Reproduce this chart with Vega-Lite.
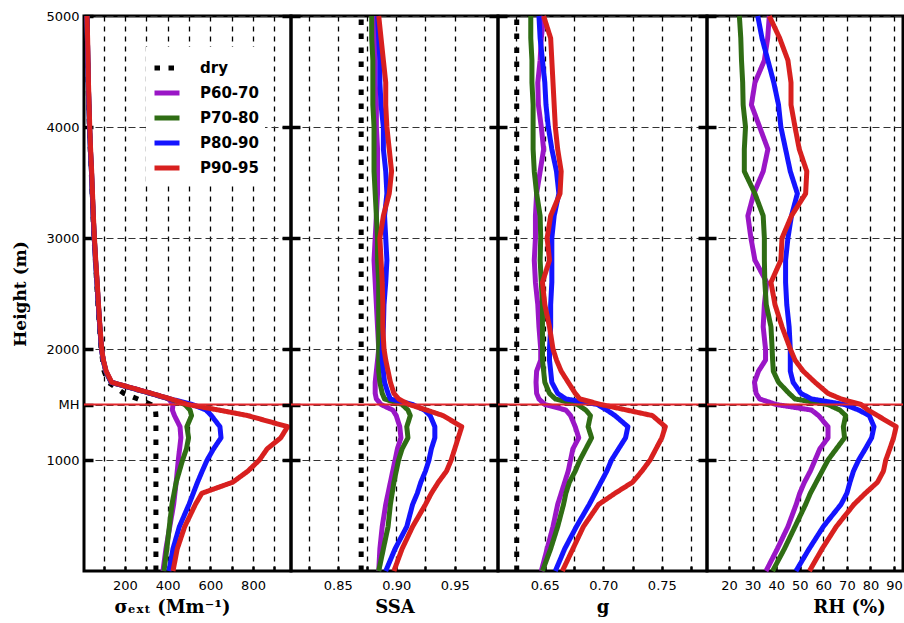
{
"$schema": "https://vega.github.io/schema/vega-lite/v6.json",
"background": "white",
"padding": {"left": 10, "top": 8, "right": 0, "bottom": 0},
"autosize": {"type": "pad"},
"spacing": 0,
"bounds": "flush",
"resolve": {"scale": {"color": "independent", "strokeDash": "independent"}},
"config": {
 "view": {"stroke": "black", "strokeWidth": 3},
 "axis": {"labelFont": "DejaVu Sans", "labelFontSize": 13, "labelColor": "black", "titleFont": "DejaVu Serif", "titleFontWeight": "bold", "titleColor": "black", "titleFontSize": 18, "domain": false, "tickColor": "black", "gridColor": "black", "gridOpacity": 1, "labelFlush": false, "labelOverlap": false},
 "axisX": {"gridDash": [5, 5], "gridWidth": 1.3, "tickSize": -5, "tickWidth": 2.5, "labelPadding": 13, "titlePadding": 6},
 "axisY": {"gridDash": [7, 4], "gridWidth": 1.2, "gridColor": "#333333", "tickSize": -9, "tickWidth": 3.5, "labelPadding": 14}
},
"data": {"values": [
{"s":"dry","h":0,"sig":345,"ssa":0.87,"g":0.626,"rh":null},
{"s":"dry","h":200,"sig":345,"ssa":0.87,"g":0.626,"rh":null},
{"s":"dry","h":400,"sig":345,"ssa":0.87,"g":0.626,"rh":null},
{"s":"dry","h":600,"sig":345,"ssa":0.87,"g":0.626,"rh":null},
{"s":"dry","h":700,"sig":345,"ssa":0.87,"g":0.626,"rh":null},
{"s":"dry","h":800,"sig":345,"ssa":0.87,"g":0.626,"rh":null},
{"s":"dry","h":900,"sig":345,"ssa":0.87,"g":0.626,"rh":null},
{"s":"dry","h":1000,"sig":345,"ssa":0.87,"g":0.626,"rh":null},
{"s":"dry","h":1100,"sig":345,"ssa":0.87,"g":0.626,"rh":null},
{"s":"dry","h":1200,"sig":345,"ssa":0.87,"g":0.626,"rh":null},
{"s":"dry","h":1300,"sig":345,"ssa":0.87,"g":0.626,"rh":null},
{"s":"dry","h":1400,"sig":345,"ssa":0.87,"g":0.626,"rh":null},
{"s":"dry","h":1450,"sig":343,"ssa":0.87,"g":0.626,"rh":null},
{"s":"dry","h":1500,"sig":322,"ssa":0.87,"g":0.626,"rh":null},
{"s":"dry","h":1550,"sig":260,"ssa":0.87,"g":0.626,"rh":null},
{"s":"dry","h":1600,"sig":195,"ssa":0.87,"g":0.626,"rh":null},
{"s":"dry","h":1700,"sig":122,"ssa":0.87,"g":0.626,"rh":null},
{"s":"dry","h":1800,"sig":102,"ssa":0.87,"g":0.626,"rh":null},
{"s":"dry","h":1900,"sig":95,"ssa":0.87,"g":0.626,"rh":null},
{"s":"dry","h":2000,"sig":88,"ssa":0.87,"g":0.626,"rh":null},
{"s":"dry","h":2200,"sig":80,"ssa":0.87,"g":0.626,"rh":null},
{"s":"dry","h":2400,"sig":73,"ssa":0.87,"g":0.626,"rh":null},
{"s":"dry","h":2600,"sig":67,"ssa":0.87,"g":0.626,"rh":null},
{"s":"dry","h":2800,"sig":61,"ssa":0.87,"g":0.626,"rh":null},
{"s":"dry","h":3000,"sig":55,"ssa":0.87,"g":0.626,"rh":null},
{"s":"dry","h":3200,"sig":50,"ssa":0.87,"g":0.626,"rh":null},
{"s":"dry","h":3400,"sig":46,"ssa":0.87,"g":0.626,"rh":null},
{"s":"dry","h":3600,"sig":42,"ssa":0.87,"g":0.626,"rh":null},
{"s":"dry","h":3800,"sig":37,"ssa":0.87,"g":0.626,"rh":null},
{"s":"dry","h":4000,"sig":33,"ssa":0.87,"g":0.626,"rh":null},
{"s":"dry","h":4200,"sig":30,"ssa":0.87,"g":0.626,"rh":null},
{"s":"dry","h":4400,"sig":27,"ssa":0.87,"g":0.626,"rh":null},
{"s":"dry","h":4600,"sig":25,"ssa":0.87,"g":0.626,"rh":null},
{"s":"dry","h":4800,"sig":23,"ssa":0.87,"g":0.626,"rh":null},
{"s":"dry","h":5000,"sig":21,"ssa":0.87,"g":0.626,"rh":null},
{"s":"P60-70","h":0,"sig":378,"ssa":0.885,"g":0.647,"rh":35.7},
{"s":"P60-70","h":200,"sig":392,"ssa":0.886,"g":0.652,"rh":40.5},
{"s":"P60-70","h":400,"sig":410,"ssa":0.888,"g":0.657,"rh":45},
{"s":"P60-70","h":600,"sig":428,"ssa":0.891,"g":0.661,"rh":48.5},
{"s":"P60-70","h":700,"sig":434,"ssa":0.893,"g":0.664,"rh":50},
{"s":"P60-70","h":800,"sig":440,"ssa":0.895,"g":0.667,"rh":52},
{"s":"P60-70","h":900,"sig":445,"ssa":0.897,"g":0.67,"rh":54.5},
{"s":"P60-70","h":1000,"sig":450,"ssa":0.899,"g":0.672,"rh":56.5},
{"s":"P60-70","h":1100,"sig":456,"ssa":0.901,"g":0.674,"rh":58.5},
{"s":"P60-70","h":1200,"sig":462,"ssa":0.904,"g":0.679,"rh":62},
{"s":"P60-70","h":1300,"sig":458,"ssa":0.903,"g":0.676,"rh":62},
{"s":"P60-70","h":1400,"sig":432,"ssa":0.9,"g":0.672,"rh":58},
{"s":"P60-70","h":1450,"sig":422,"ssa":0.897,"g":0.668,"rh":55},
{"s":"P60-70","h":1500,"sig":425,"ssa":0.887,"g":0.65,"rh":40},
{"s":"P60-70","h":1550,"sig":405,"ssa":0.883,"g":0.645,"rh":33},
{"s":"P60-70","h":1600,"sig":320,"ssa":0.882,"g":0.643,"rh":31.5},
{"s":"P60-70","h":1700,"sig":135,"ssa":0.882,"g":0.6425,"rh":30.8},
{"s":"P60-70","h":1800,"sig":110,"ssa":0.883,"g":0.643,"rh":32.5},
{"s":"P60-70","h":1900,"sig":98,"ssa":0.884,"g":0.6465,"rh":35.5},
{"s":"P60-70","h":2000,"sig":90,"ssa":0.885,"g":0.6465,"rh":35.5},
{"s":"P60-70","h":2200,"sig":82,"ssa":0.884,"g":0.645,"rh":34.5},
{"s":"P60-70","h":2400,"sig":75,"ssa":0.883,"g":0.644,"rh":35},
{"s":"P60-70","h":2600,"sig":69,"ssa":0.882,"g":0.642,"rh":36},
{"s":"P60-70","h":2800,"sig":62,"ssa":0.881,"g":0.641,"rh":31},
{"s":"P60-70","h":3000,"sig":56,"ssa":0.882,"g":0.642,"rh":29.3},
{"s":"P60-70","h":3200,"sig":51,"ssa":0.883,"g":0.642,"rh":28},
{"s":"P60-70","h":3400,"sig":47,"ssa":0.884,"g":0.643,"rh":30.5},
{"s":"P60-70","h":3600,"sig":43,"ssa":0.884,"g":0.646,"rh":34.5},
{"s":"P60-70","h":3800,"sig":38,"ssa":0.884,"g":0.649,"rh":36.5},
{"s":"P60-70","h":4000,"sig":34,"ssa":0.883,"g":0.647,"rh":33},
{"s":"P60-70","h":4200,"sig":31,"ssa":0.883,"g":0.6445,"rh":29.5},
{"s":"P60-70","h":4400,"sig":28,"ssa":0.882,"g":0.644,"rh":31},
{"s":"P60-70","h":4600,"sig":26,"ssa":0.882,"g":0.646,"rh":35},
{"s":"P60-70","h":4800,"sig":24,"ssa":0.882,"g":0.647,"rh":36.4},
{"s":"P60-70","h":5000,"sig":22,"ssa":0.882,"g":0.649,"rh":37.1},
{"s":"P70-80","h":0,"sig":383,"ssa":0.885,"g":0.648,"rh":38.5},
{"s":"P70-80","h":200,"sig":396,"ssa":0.889,"g":0.655,"rh":43.5},
{"s":"P70-80","h":400,"sig":408,"ssa":0.893,"g":0.661,"rh":48},
{"s":"P70-80","h":600,"sig":420,"ssa":0.895,"g":0.666,"rh":52.5},
{"s":"P70-80","h":700,"sig":430,"ssa":0.8965,"g":0.668,"rh":54.5},
{"s":"P70-80","h":800,"sig":440,"ssa":0.898,"g":0.671,"rh":57},
{"s":"P70-80","h":900,"sig":455,"ssa":0.9,"g":0.676,"rh":59.5},
{"s":"P70-80","h":1000,"sig":470,"ssa":0.902,"g":0.68,"rh":62},
{"s":"P70-80","h":1100,"sig":488,"ssa":0.905,"g":0.685,"rh":65.5},
{"s":"P70-80","h":1200,"sig":498,"ssa":0.91,"g":0.69,"rh":69},
{"s":"P70-80","h":1300,"sig":490,"ssa":0.909,"g":0.687,"rh":68.5},
{"s":"P70-80","h":1400,"sig":512,"ssa":0.912,"g":0.689,"rh":69.5},
{"s":"P70-80","h":1450,"sig":505,"ssa":0.91,"g":0.685,"rh":67},
{"s":"P70-80","h":1500,"sig":480,"ssa":0.905,"g":0.678,"rh":61.9},
{"s":"P70-80","h":1550,"sig":410,"ssa":0.89,"g":0.659,"rh":48},
{"s":"P70-80","h":1600,"sig":320,"ssa":0.888,"g":0.654,"rh":45.5},
{"s":"P70-80","h":1700,"sig":135,"ssa":0.886,"g":0.65,"rh":41},
{"s":"P70-80","h":1800,"sig":110,"ssa":0.885,"g":0.649,"rh":38.8},
{"s":"P70-80","h":1900,"sig":98,"ssa":0.885,"g":0.648,"rh":38.5},
{"s":"P70-80","h":2000,"sig":90,"ssa":0.885,"g":0.648,"rh":38.3},
{"s":"P70-80","h":2200,"sig":82,"ssa":0.885,"g":0.648,"rh":37.8},
{"s":"P70-80","h":2400,"sig":75,"ssa":0.885,"g":0.648,"rh":35.8},
{"s":"P70-80","h":2600,"sig":69,"ssa":0.885,"g":0.647,"rh":35.2},
{"s":"P70-80","h":2800,"sig":62,"ssa":0.884,"g":0.646,"rh":35},
{"s":"P70-80","h":3000,"sig":56,"ssa":0.884,"g":0.6465,"rh":35},
{"s":"P70-80","h":3200,"sig":51,"ssa":0.883,"g":0.646,"rh":34.5},
{"s":"P70-80","h":3400,"sig":47,"ssa":0.882,"g":0.643,"rh":31},
{"s":"P70-80","h":3600,"sig":43,"ssa":0.881,"g":0.641,"rh":26.5},
{"s":"P70-80","h":3800,"sig":38,"ssa":0.881,"g":0.64,"rh":26.5},
{"s":"P70-80","h":4000,"sig":34,"ssa":0.881,"g":0.64,"rh":27},
{"s":"P70-80","h":4200,"sig":31,"ssa":0.88,"g":0.64,"rh":26},
{"s":"P70-80","h":4400,"sig":28,"ssa":0.88,"g":0.639,"rh":25.8},
{"s":"P70-80","h":4600,"sig":26,"ssa":0.88,"g":0.639,"rh":25.3},
{"s":"P70-80","h":4800,"sig":24,"ssa":0.879,"g":0.638,"rh":25},
{"s":"P70-80","h":5000,"sig":22,"ssa":0.879,"g":0.638,"rh":24.4},
{"s":"P80-90","h":0,"sig":406,"ssa":0.891,"g":0.659,"rh":48.4},
{"s":"P80-90","h":200,"sig":425,"ssa":0.899,"g":0.667,"rh":54},
{"s":"P80-90","h":400,"sig":455,"ssa":0.909,"g":0.677,"rh":60},
{"s":"P80-90","h":600,"sig":500,"ssa":0.914,"g":0.688,"rh":67.5},
{"s":"P80-90","h":700,"sig":520,"ssa":0.918,"g":0.693,"rh":70},
{"s":"P80-90","h":800,"sig":540,"ssa":0.921,"g":0.698,"rh":71.3},
{"s":"P80-90","h":900,"sig":562,"ssa":0.925,"g":0.703,"rh":72.8},
{"s":"P80-90","h":1000,"sig":585,"ssa":0.928,"g":0.707,"rh":75},
{"s":"P80-90","h":1100,"sig":615,"ssa":0.93,"g":0.713,"rh":77.8},
{"s":"P80-90","h":1200,"sig":650,"ssa":0.933,"g":0.719,"rh":80.5},
{"s":"P80-90","h":1300,"sig":645,"ssa":0.933,"g":0.721,"rh":81.5},
{"s":"P80-90","h":1400,"sig":605,"ssa":0.929,"g":0.71,"rh":79.5},
{"s":"P80-90","h":1450,"sig":580,"ssa":0.924,"g":0.703,"rh":75},
{"s":"P80-90","h":1500,"sig":515,"ssa":0.914,"g":0.695,"rh":69},
{"s":"P80-90","h":1550,"sig":412,"ssa":0.895,"g":0.668,"rh":55},
{"s":"P80-90","h":1600,"sig":322,"ssa":0.893,"g":0.661,"rh":50.5},
{"s":"P80-90","h":1700,"sig":136,"ssa":0.89,"g":0.656,"rh":47.2},
{"s":"P80-90","h":1800,"sig":111,"ssa":0.889,"g":0.655,"rh":46},
{"s":"P80-90","h":1900,"sig":98,"ssa":0.888,"g":0.654,"rh":46},
{"s":"P80-90","h":2000,"sig":90,"ssa":0.888,"g":0.654,"rh":46},
{"s":"P80-90","h":2200,"sig":82,"ssa":0.889,"g":0.655,"rh":45.5},
{"s":"P80-90","h":2400,"sig":75,"ssa":0.8895,"g":0.655,"rh":44.5},
{"s":"P80-90","h":2600,"sig":69,"ssa":0.891,"g":0.656,"rh":44},
{"s":"P80-90","h":2800,"sig":62,"ssa":0.892,"g":0.656,"rh":44},
{"s":"P80-90","h":3000,"sig":56,"ssa":0.891,"g":0.656,"rh":45},
{"s":"P80-90","h":3200,"sig":51,"ssa":0.89,"g":0.658,"rh":46.5},
{"s":"P80-90","h":3400,"sig":47,"ssa":0.892,"g":0.662,"rh":49},
{"s":"P80-90","h":3600,"sig":43,"ssa":0.891,"g":0.66,"rh":46},
{"s":"P80-90","h":3800,"sig":38,"ssa":0.889,"g":0.656,"rh":44},
{"s":"P80-90","h":4000,"sig":34,"ssa":0.889,"g":0.653,"rh":42},
{"s":"P80-90","h":4200,"sig":31,"ssa":0.887,"g":0.651,"rh":41},
{"s":"P80-90","h":4400,"sig":28,"ssa":0.886,"g":0.65,"rh":39},
{"s":"P80-90","h":4600,"sig":26,"ssa":0.886,"g":0.648,"rh":36.5},
{"s":"P80-90","h":4800,"sig":24,"ssa":0.885,"g":0.646,"rh":34},
{"s":"P80-90","h":5000,"sig":22,"ssa":0.884,"g":0.645,"rh":32.2},
{"s":"P90-95","h":0,"sig":425,"ssa":0.898,"g":0.665,"rh":54.1},
{"s":"P90-95","h":200,"sig":445,"ssa":0.905,"g":0.674,"rh":59.5},
{"s":"P90-95","h":400,"sig":480,"ssa":0.914,"g":0.683,"rh":65.5},
{"s":"P90-95","h":600,"sig":530,"ssa":0.925,"g":0.696,"rh":73},
{"s":"P90-95","h":700,"sig":560,"ssa":0.93,"g":0.71,"rh":77.8},
{"s":"P90-95","h":800,"sig":705,"ssa":0.936,"g":0.725,"rh":83},
{"s":"P90-95","h":900,"sig":776,"ssa":0.943,"g":0.733,"rh":85.5},
{"s":"P90-95","h":1000,"sig":830,"ssa":0.947,"g":0.74,"rh":86.5},
{"s":"P90-95","h":1100,"sig":866,"ssa":0.95,"g":0.745,"rh":88.2},
{"s":"P90-95","h":1200,"sig":930,"ssa":0.953,"g":0.75,"rh":89.8},
{"s":"P90-95","h":1300,"sig":962,"ssa":0.956,"g":0.753,"rh":90.9},
{"s":"P90-95","h":1400,"sig":776,"ssa":0.94,"g":0.742,"rh":83},
{"s":"P90-95","h":1450,"sig":640,"ssa":0.926,"g":0.72,"rh":79},
{"s":"P90-95","h":1500,"sig":494,"ssa":0.911,"g":0.698,"rh":76},
{"s":"P90-95","h":1550,"sig":414,"ssa":0.902,"g":0.68,"rh":67.5},
{"s":"P90-95","h":1600,"sig":325,"ssa":0.898,"g":0.676,"rh":62},
{"s":"P90-95","h":1700,"sig":138,"ssa":0.895,"g":0.67,"rh":56.5},
{"s":"P90-95","h":1800,"sig":112,"ssa":0.893,"g":0.664,"rh":51.5},
{"s":"P90-95","h":1900,"sig":99,"ssa":0.891,"g":0.66,"rh":48},
{"s":"P90-95","h":2000,"sig":91,"ssa":0.8895,"g":0.657,"rh":46},
{"s":"P90-95","h":2200,"sig":83,"ssa":0.8885,"g":0.654,"rh":42.5},
{"s":"P90-95","h":2400,"sig":76,"ssa":0.8885,"g":0.65,"rh":39.5},
{"s":"P90-95","h":2600,"sig":70,"ssa":0.888,"g":0.648,"rh":37.8},
{"s":"P90-95","h":2800,"sig":63,"ssa":0.887,"g":0.654,"rh":42},
{"s":"P90-95","h":3000,"sig":57,"ssa":0.886,"g":0.652,"rh":42.5},
{"s":"P90-95","h":3200,"sig":52,"ssa":0.889,"g":0.655,"rh":46.5},
{"s":"P90-95","h":3400,"sig":48,"ssa":0.894,"g":0.663,"rh":52.5},
{"s":"P90-95","h":3600,"sig":44,"ssa":0.896,"g":0.664,"rh":53},
{"s":"P90-95","h":3800,"sig":39,"ssa":0.894,"g":0.661,"rh":49.8},
{"s":"P90-95","h":4000,"sig":35,"ssa":0.892,"g":0.659,"rh":48},
{"s":"P90-95","h":4200,"sig":32,"ssa":0.891,"g":0.658,"rh":46.3},
{"s":"P90-95","h":4400,"sig":29,"ssa":0.891,"g":0.657,"rh":46.3},
{"s":"P90-95","h":4600,"sig":27,"ssa":0.889,"g":0.656,"rh":45},
{"s":"P90-95","h":4800,"sig":25,"ssa":0.887,"g":0.655,"rh":41.5},
{"s":"P90-95","h":5000,"sig":22,"ssa":0.885,"g":0.649,"rh":37.1}
]},
"hconcat": [
 {
  "width": 207, "height": 555,
  "layer": [
   {
    "mark": {"type": "line", "strokeWidth": 5, "strokeJoin": "round"},
    "encoding": {
     "x": {"field": "sig", "type": "quantitative", "scale": {"domain": [8, 978], "nice": false, "zero": false},
           "axis": {"values": [100, 200, 300, 400, 500, 600, 700, 800, 900], "labelExpr": "datum.value % 200 == 0 ? datum.label : ''", "title": "σₑₓₜ (Mm⁻¹)", "titleX": 88, "grid": true}},
     "y": {"field": "h", "type": "quantitative", "scale": {"domain": [0, 5000], "nice": false, "zero": false},
           "axis": {"values": [1000, 1500, 2000, 3000, 4000, 5000], "format": "d", "labelExpr": "datum.value == 1500 ? 'MH' : datum.label", "title": "Height (m)", "titleFontSize": 17, "titlePadding": 16, "grid": true}},
     "order": {"field": "h", "type": "quantitative"},
     "color": {"field": "s", "type": "nominal",
               "scale": {"domain": ["dry", "P60-70", "P70-80", "P80-90", "P90-95"], "range": ["#000000", "#9a16c6", "#2f6d14", "#1414ff", "#d8201f"]},
               "legend": {"orient": "none", "legendX": 62, "legendY": 31, "title": null, "symbolType": "stroke", "symbolSize": 625, "symbolStrokeWidth": 5, "labelFont": "DejaVu Sans", "labelFontSize": 15, "labelFontWeight": "bold", "labelColor": "black", "labelOffset": 18, "rowPadding": 0, "fillColor": "white", "padding": 6}},
     "strokeDash": {"field": "s", "type": "nominal",
               "scale": {"domain": ["dry", "P60-70", "P70-80", "P80-90", "P90-95"], "range": [[5.5, 8.5], [1, 0], [1, 0], [1, 0], [1, 0]]},
               "legend": {"orient": "none", "legendX": 62, "legendY": 31, "title": null, "symbolType": "stroke", "symbolSize": 625, "symbolStrokeWidth": 5, "labelFont": "DejaVu Sans", "labelFontSize": 15, "labelFontWeight": "bold", "labelColor": "black", "labelOffset": 18, "rowPadding": 0, "fillColor": "white", "padding": 6}}
    }
   },
   {"data": {"values": [{}]}, "mark": {"type": "rule", "color": "#e3262b", "strokeWidth": 2}, "encoding": {"y": {"datum": 1500}}}
  ]
 },
 {
  "width": 207, "height": 555,
  "layer": [
   {
    "mark": {"type": "line", "strokeWidth": 5, "strokeJoin": "round"},
    "encoding": {
     "x": {"field": "ssa", "type": "quantitative", "scale": {"domain": [0.81, 0.987], "nice": false, "zero": false},
           "axis": {"values": [0.825, 0.85, 0.875, 0.9, 0.925, 0.95, 0.975], "format": ".2f", "labelExpr": "indexof(['0.85','0.90','0.95'], datum.label) >= 0 ? datum.label : ''", "title": "SSA", "grid": true}},
     "y": {"field": "h", "type": "quantitative", "scale": {"domain": [0, 5000], "nice": false, "zero": false},
           "axis": {"values": [1000, 1500, 2000, 3000, 4000, 5000], "labels": false, "title": null, "grid": true, "offset": -9, "tickSize": 18}},
     "order": {"field": "h", "type": "quantitative"},
     "color": {"field": "s", "type": "nominal", "legend": null,
               "scale": {"domain": ["dry", "P60-70", "P70-80", "P80-90", "P90-95"], "range": ["#000000", "#9a16c6", "#2f6d14", "#1414ff", "#d8201f"]}},
     "strokeDash": {"field": "s", "type": "nominal", "legend": null,
               "scale": {"domain": ["dry", "P60-70", "P70-80", "P80-90", "P90-95"], "range": [[5.5, 8.5], [1, 0], [1, 0], [1, 0], [1, 0]]}}
    }
   },
   {"data": {"values": [{}]}, "mark": {"type": "rule", "color": "#e3262b", "strokeWidth": 2}, "encoding": {"y": {"datum": 1500}}}
  ]
 },
 {
  "width": 209, "height": 555,
  "layer": [
   {
    "mark": {"type": "line", "strokeWidth": 5, "strokeJoin": "round"},
    "encoding": {
     "x": {"field": "g", "type": "quantitative", "scale": {"domain": [0.61, 0.7886], "nice": false, "zero": false},
           "axis": {"values": [0.625, 0.65, 0.675, 0.7, 0.725, 0.75, 0.775], "format": ".2f", "labelExpr": "indexof(['0.65','0.70','0.75'], datum.label) >= 0 ? datum.label : ''", "title": "g", "grid": true}},
     "y": {"field": "h", "type": "quantitative", "scale": {"domain": [0, 5000], "nice": false, "zero": false},
           "axis": {"values": [1000, 1500, 2000, 3000, 4000, 5000], "labels": false, "title": null, "grid": true, "offset": -9, "tickSize": 18}},
     "order": {"field": "h", "type": "quantitative"},
     "color": {"field": "s", "type": "nominal", "legend": null,
               "scale": {"domain": ["dry", "P60-70", "P70-80", "P80-90", "P90-95"], "range": ["#000000", "#9a16c6", "#2f6d14", "#1414ff", "#d8201f"]}},
     "strokeDash": {"field": "s", "type": "nominal", "legend": null,
               "scale": {"domain": ["dry", "P60-70", "P70-80", "P80-90", "P90-95"], "range": [[5.5, 8.5], [1, 0], [1, 0], [1, 0], [1, 0]]}}
    }
   },
   {"data": {"values": [{}]}, "mark": {"type": "rule", "color": "#e3262b", "strokeWidth": 2}, "encoding": {"y": {"datum": 1500}}}
  ]
 },
 {
  "width": 196, "height": 555,
  "layer": [
   {
    "mark": {"type": "line", "strokeWidth": 5, "strokeJoin": "round"},
    "encoding": {
     "x": {"field": "rh", "type": "quantitative", "scale": {"domain": [10.67, 93.8], "nice": false, "zero": false},
           "axis": {"values": [20, 30, 40, 50, 60, 70, 80, 90], "title": "RH (%)", "titleX": 142, "grid": true}},
     "y": {"field": "h", "type": "quantitative", "scale": {"domain": [0, 5000], "nice": false, "zero": false},
           "axis": {"values": [1000, 1500, 2000, 3000, 4000, 5000], "labels": false, "title": null, "grid": true, "offset": -9, "tickSize": 18}},
     "order": {"field": "h", "type": "quantitative"},
     "color": {"field": "s", "type": "nominal", "legend": null,
               "scale": {"domain": ["dry", "P60-70", "P70-80", "P80-90", "P90-95"], "range": ["#000000", "#9a16c6", "#2f6d14", "#1414ff", "#d8201f"]}},
     "strokeDash": {"field": "s", "type": "nominal", "legend": null,
               "scale": {"domain": ["dry", "P60-70", "P70-80", "P80-90", "P90-95"], "range": [[5.5, 8.5], [1, 0], [1, 0], [1, 0], [1, 0]]}}
    }
   },
   {"data": {"values": [{}]}, "mark": {"type": "rule", "color": "#e3262b", "strokeWidth": 2}, "encoding": {"y": {"datum": 1500}}}
  ]
 }
]
}
